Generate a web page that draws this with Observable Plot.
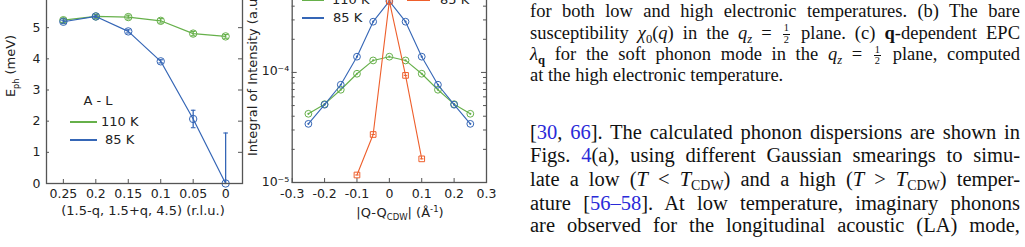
<!DOCTYPE html>
<html><head><meta charset="utf-8">
<script src="https://cdn.jsdelivr.net/npm/d3@7"></script>
<script src="https://cdn.jsdelivr.net/npm/@observablehq/plot@0.6"></script>
<style>
html,body{margin:0;padding:0;background:#fff;}
#page{position:relative;width:1025px;height:247px;overflow:hidden;font-family:"DejaVu Sans",sans-serif;color:#222;}
.abs{position:absolute;white-space:nowrap;}
.chart{position:absolute;}
.c{transform:translate(-50%,-50%);}
.rot{transform:translate(-50%,-50%) rotate(-90deg);}
.rotStart{transform-origin:0 0;transform:rotate(-90deg) translate(0,-50%);}
.lg{position:absolute;height:2px;}
.ln{position:absolute;left:530px;width:490px;font-family:"Liberation Serif",serif;color:#111;text-align:justify;text-align-last:justify;}
.cap{font-size:18.5px;line-height:21.3px;}
.body{font-size:20.5px;line-height:23.2px;}
.left{text-align-last:left;}
.frac{display:inline-block;vertical-align:-0.38em;font-size:0.56em;line-height:1.0;text-align:center;text-align-last:center;margin:0 2px;}
.frac .nu{display:block;border-bottom:0.9px solid #111;padding:0 1px;text-align-last:center;}
.frac .de{display:block;text-align-last:center;}
.ln sub{font-size:0.68em;vertical-align:-0.28em;line-height:0;}
.ref{color:#2a2ad8;}
</style></head>
<body><div id="page"></div>
<script>
// ---------- Panel (a): phonon dispersion ----------
const qA = [0.25, 0.2, 0.15, 0.1, 0.05, 0];
const e110 = [5.24, 5.36, 5.34, 5.22, 4.81, 4.72];
const e110err = [0.07, 0.06, 0.06, 0.07, 0.07, 0.06];
const e85 = [5.19, 5.36, 4.88, 3.92, 2.07, 0.0];
const e85err = [0.05, 0.04, 0.05, 0.05, 0.28, 1.62];
const qTicks = [0.25, 0.2, 0.15, 0.1, 0.05, 0];
const eTicks = [0, 1, 2, 3, 4, 5];

// ---------- Panel (b): integrated intensity ----------
const dq = [-0.25, -0.2, -0.15, -0.1, -0.05, 0, 0.05, 0.1, 0.15, 0.2, 0.25];
const int85 = [3.41e-5, 5.09e-5, 7.73e-5, 1.39e-4, 2.89e-4, 4.45e-4, 2.89e-4, 1.39e-4, 7.73e-5, 5.09e-5, 3.41e-5];
const int110 = [4.21e-5, 5.15e-5, 6.96e-5, 9.73e-5, 1.285e-4, 1.39e-4, 1.285e-4, 9.73e-5, 6.96e-5, 5.15e-5, 4.21e-5];
const dqO = [-0.1, -0.05, 0, 0.05, 0.1];
const intO = [1.17e-5, 2.73e-5, 4.45e-4, 9.4e-5, 1.64e-5];
const dqTicks = [-0.3, -0.2, -0.1, 0, 0.1, 0.2, 0.3];
const intMajor = [1e-5, 1e-4];
const intMajorLabels = ["10⁻⁵", "10⁻⁴"];
const intMinor = [2e-5, 3e-5, 4e-5, 5e-5, 6e-5, 7e-5, 8e-5, 9e-5, 2e-4, 3e-4, 4e-4];

const GREEN = "#66b04a", BLUE = "#3566b6", ORANGE = "#ee5f2c", FRAME = "#555";
const capSym = {draw(ctx, size) { const w = Math.sqrt(size) / 2; ctx.moveTo(-w, 0); ctx.lineTo(w, 0); }};

const page = document.getElementById("page");
const style = {fontFamily: "DejaVu Sans", fontSize: "12.5px", color: "#222", background: "transparent", overflow: "visible"};

// inward tick helpers (length in px via insets)
function ticksBottom(vals, H, len) { return Plot.ruleX(vals, {x: d => d, insetTop: H - len, stroke: FRAME}); }
function ticksLeft(vals, W, len) { return Plot.ruleY(vals, {y: d => d, insetRight: W - len, stroke: FRAME}); }
function ticksRight(vals, W, len) { return Plot.ruleY(vals, {y: d => d, insetLeft: W - len, stroke: FRAME}); }

// Panel a
{
  const A110 = qA.map((q, i) => ({q, e: e110[i], err: e110err[i]}));
  const A85 = qA.map((q, i) => ({q, e: e85[i], err: e85err[i]}));
  const W = 260, H = 237, mL = 46, mR = 18, mT = 10, mB = 40;
  const pw = W - mL - mR, ph = H - mT - mB;
  const series = (data, c) => [
    Plot.line(data, {x: "q", y: "e", stroke: c, strokeWidth: 1.2}),
    Plot.ruleX(data, {x: "q", y1: d => d.e - d.err, y2: d => d.e + d.err, stroke: c, strokeWidth: 1.3, clip: true}),
    Plot.dot(data, {x: "q", y: d => d.e - d.err, symbol: capSym, r: 2.6, stroke: c, strokeWidth: 1.1, clip: true}),
    Plot.dot(data, {x: "q", y: d => d.e + d.err, symbol: capSym, r: 2.6, stroke: c, strokeWidth: 1.1}),
    Plot.dot(data, {x: "q", y: "e", r: 3.7, stroke: c, strokeWidth: 1, fill: "none"})
  ];
  const svg = Plot.plot({
    width: W, height: H, marginLeft: mL, marginRight: mR, marginTop: mT, marginBottom: mB,
    style,
    x: {domain: [0.276, -0.026]},
    y: {domain: [0, 6]},
    marks: [
      Plot.axisX(qTicks, {tickSize: 0, tickPadding: 6, tickFormat: d => String(d), label: null}),
      Plot.axisY(eTicks, {tickSize: 0, tickPadding: 6, tickFormat: d => String(d), label: null}),
      ticksBottom(qTicks, ph, 4),
      ticksLeft(eTicks, pw, 3),
      ticksRight(eTicks, pw, 4),
      ...series(A110, GREEN),
      ...series(A85, BLUE),
      Plot.frame({stroke: FRAME, strokeWidth: 1.3})
    ]
  });
  svg.classList.add("chart");
  svg.style.left = "0px"; svg.style.top = (183 - (H - mB)) + "px";
  page.appendChild(svg);
}

// Panel b
{
  const B85 = dq.map((x, i) => ({x, v: int85[i]}));
  const B110 = dq.map((x, i) => ({x, v: int110[i]}));
  const BO = dqO.map((x, i) => ({x, v: intO[i]}));
  const W = 270, H = 237, mL = 61.7, mR = 14, mT = 10, mB = 40;
  const pw = W - mL - mR, ph = H - mT - mB;
  const svg = Plot.plot({
    width: W, height: H, marginLeft: mL, marginRight: mR, marginTop: mT, marginBottom: mB,
    style,
    x: {domain: [-0.3, 0.3]},
    y: {type: "log", domain: [1e-5, 5e-4]},
    marks: [
      Plot.axisX(dqTicks, {tickSize: 0, tickPadding: 7, tickFormat: d => String(Math.round(d * 10) / 10), label: null}),
      Plot.axisY(intMajor, {tickSize: 0, tickPadding: 3, dy: -1, tickFormat: d => intMajorLabels[intMajor.indexOf(d)], label: null}),
      ticksBottom(dqTicks, ph, 4),
      ticksLeft(intMajor, pw, 5),
      ticksLeft(intMinor, pw, 3),
      ticksRight(intMajor, pw, 5),
      ticksRight(intMinor, pw, 3),
      Plot.line(B110, {x: "x", y: "v", stroke: GREEN, strokeWidth: 1.1}),
      Plot.dot(B110, {x: "x", y: "v", r: 3.4, stroke: GREEN, strokeWidth: 1, fill: "none"}),
      Plot.dot(B110, {x: "x", y: "v", r: 1.1, fill: GREEN}),
      Plot.line(B85, {x: "x", y: "v", stroke: BLUE, strokeWidth: 1.1}),
      Plot.dot(B85, {x: "x", y: "v", r: 3.4, stroke: BLUE, strokeWidth: 1, fill: "none"}),
      Plot.dot(B85, {x: "x", y: "v", r: 1.1, fill: BLUE}),
      Plot.line(BO, {x: "x", y: "v", stroke: ORANGE, strokeWidth: 1.1}),
      Plot.dot(BO, {x: "x", y: "v", symbol: "square", r: 3.2, stroke: ORANGE, strokeWidth: 1, fill: "none"}),
      Plot.dot(BO, {x: "x", y: "v", symbol: capSym, r: 2, stroke: ORANGE, strokeWidth: 1}),
      Plot.frame({stroke: FRAME, strokeWidth: 1.3})
    ]
  });
  svg.classList.add("chart");
  svg.style.left = "230px"; svg.style.top = (182 - (H - mB)) + "px";
  page.appendChild(svg);
}

// ---------- overlays: axis titles and legends ----------
const overlay = `
<div class="abs rot" style="left:12px;top:66px;font-size:13px">E<sub style="font-size:8px">ph</sub> (meV)</div>
<div class="abs c" style="left:143px;top:210px;font-size:13px">(1.5-q, 1.5+q, 4.5) (r.l.u.)</div>
<div class="abs c" style="left:98px;top:100px;font-size:13px">A - L</div>
<div class="lg" style="left:70px;width:27px;top:121px;background:${GREEN}"></div>
<div class="abs" style="left:101px;top:114px;font-size:13px">110 K</div>
<div class="lg" style="left:70px;width:27px;top:139px;background:${BLUE}"></div>
<div class="abs" style="left:105px;top:132px;font-size:13px">85 K</div>

<div class="abs rotStart" style="left:252px;top:156px;font-size:13px">Integral of Intensity (a.u.)</div>
<div class="abs c" style="left:400px;top:213px;font-size:13px">|Q-Q<sub style="font-size:8.5px">CDW</sub>| (Å<sup style="font-size:8.5px">-1</sup>)</div>
<div class="lg" style="left:302px;width:22px;top:-1px;background:${GREEN}"></div>
<div class="abs" style="left:332px;top:-8px;font-size:13px">110 K</div>
<div class="lg" style="left:302px;width:22px;top:17px;background:${BLUE}"></div>
<div class="abs" style="left:333px;top:10px;font-size:13px">85 K</div>
<div class="lg" style="left:407px;width:23px;top:-1px;background:${ORANGE}"></div>
<div class="abs" style="left:440px;top:-8px;font-size:13px">85 K</div>

<div class="ln cap" style="top:1.4px">for both low and high electronic temperatures. (b) The bare</div>
<div class="ln cap" style="top:22.6px">susceptibility <i>χ</i><sub>0</sub>(<i>q</i>) in the <i>q</i><sub><i>z</i></sub> = <span class="frac"><span class="nu">1</span><span class="de">2</span></span> plane. (c) <b>q</b>-dependent EPC</div>
<div class="ln cap" style="top:44px"><i>λ</i><sub><b>q</b></sub> for the soft phonon mode in the <i>q</i><sub><i>z</i></sub> = <span class="frac"><span class="nu">1</span><span class="de">2</span></span> plane, computed</div>
<div class="ln cap left" style="top:65.3px">at the high electronic temperature.</div>

<div class="ln body" style="top:121.2px">[<span class="ref">30</span>, <span class="ref">66</span>]. The calculated phonon dispersions are shown in</div>
<div class="ln body" style="top:143.7px">Figs. <span class="ref">4</span>(a), using different Gaussian smearings to simu-</div>
<div class="ln body" style="top:167.7px">late a low (<i>T</i> &lt; <i>T</i><sub>CDW</sub>) and a high (<i>T</i> &gt; <i>T</i><sub>CDW</sub>) temper-</div>
<div class="ln body" style="top:191.7px">ature [<span class="ref">56–58</span>]. At low temperature, imaginary phonons</div>
<div class="ln body" style="top:214.2px">are observed for the longitudinal acoustic (LA) mode,</div>
`;
page.insertAdjacentHTML("beforeend", overlay);
</script>
</body></html>
